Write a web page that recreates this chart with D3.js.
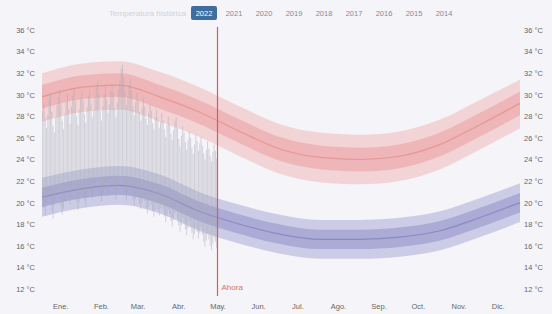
<!DOCTYPE html>
<html>
<head>
<meta charset="utf-8">
<script src="https://cdn.jsdelivr.net/npm/d3@7"></script>
<style>
  body { margin: 0; background: #f5f4f9; }
  text { font-family: "Liberation Sans", Arial, sans-serif; }
</style>
</head>
<body>
<div id="chart"></div>
<script>
// month labels (centred mid-month)
var monthLabels = ["Ene.", "Feb.", "Mar.", "Abr.", "May.", "Jun.", "Jul.", "Ago.", "Sep.", "Oct.", "Nov.", "Dic."]
var yTicks = [12, 14, 16, 18, 20, 22, 24, 26, 28, 30, 32, 34, 36]
var years = ["2022", "2021", "2020", "2019", "2018", "2017", "2016", "2015", "2014"]

// historical bands, value at the first day of each month (13 points, Jan 1 -> next Jan 1)
var redOuterHi = [32.0, 32.9, 33.1, 32.1, 30.7, 28.9, 27.3, 26.5, 26.3, 26.6, 27.7, 29.5, 31.4]
var redOuterLo = [27.5, 28.4, 28.6, 27.5, 26.1, 24.3, 22.7, 21.9, 21.7, 22.0, 23.1, 24.9, 26.9]
var redInnerHi = [30.9, 31.8, 32.0, 30.9, 29.5, 27.7, 26.1, 25.3, 25.1, 25.4, 26.5, 28.3, 30.3]
var redInnerLo = [28.7, 29.6, 29.8, 28.7, 27.3, 25.5, 23.9, 23.1, 22.9, 23.2, 24.3, 26.1, 28.1]
var redMid     = [29.8, 30.7, 30.9, 29.8, 28.4, 26.6, 25.0, 24.2, 24.0, 24.3, 25.4, 27.2, 29.2]

var blueOuterHi = [22.3, 23.1, 23.4, 22.6, 21.0, 19.8, 18.9, 18.4, 18.4, 18.6, 19.2, 20.4, 21.8]
var blueOuterLo = [18.7, 19.5, 19.8, 19.0, 17.4, 16.2, 15.3, 14.8, 14.8, 15.0, 15.6, 16.8, 18.2]
var blueInnerHi = [21.4, 22.2, 22.5, 21.7, 20.1, 18.9, 18.0, 17.5, 17.5, 17.7, 18.3, 19.5, 20.9]
var blueInnerLo = [19.6, 20.4, 20.7, 19.9, 18.3, 17.1, 16.2, 15.7, 15.7, 15.9, 16.5, 17.7, 19.1]
var blueMid     = [20.5, 21.3, 21.6, 20.8, 19.2, 18.0, 17.1, 16.6, 16.6, 16.8, 17.4, 18.6, 20.0]

// 2022 daily max / min, Jan 1 -> May 14
var dailyHigh = [
  28.5, 29.2, 27.8, 26.9, 28.1, 29.6, 30.2, 28.4, 27.1, 26.5, 27.9, 29.0, 29.8, 30.5, 29.1, 27.6, 26.8, 28.2, 29.4, 30.1, 28.7, 27.3, 28.9, 29.9, 30.6, 29.5, 28.0, 27.2, 28.6, 29.7, 30.3,
  29.5, 28.2, 27.4, 28.8, 29.9, 30.4, 29.2, 27.9, 28.6, 29.8, 30.7, 31.2, 30.1, 28.5, 27.6, 28.9, 30.0, 30.8, 29.6, 28.3, 29.1, 30.3, 31.0, 30.2, 28.8, 27.9, 29.3, 30.5,
  31.3, 32.4, 32.8, 31.6, 30.2, 29.0, 29.8, 30.9, 31.5, 30.4, 28.9, 28.1, 29.3, 30.2, 29.5, 28.4, 27.6, 28.8, 29.7, 28.9, 27.8, 27.2, 28.3, 29.1, 28.5, 27.4, 26.8, 27.9, 28.6, 27.7, 26.9,
  27.5, 28.3, 27.6, 26.8, 26.1, 27.2, 28.0, 27.3, 26.4, 25.8, 26.7, 27.6, 27.9, 26.9, 25.9, 25.2, 26.2, 27.1, 26.5, 25.6, 24.9, 25.8, 26.6, 26.0, 25.1, 24.5, 25.4, 26.3, 25.7, 24.8,
  25.5, 26.1, 25.3, 24.6, 24.0, 24.9, 25.7, 25.0, 24.3, 23.8, 24.7, 25.4, 24.8, 24.1
]
var dailyLow = [
  20.1, 19.5, 18.8, 19.9, 20.6, 21.0, 20.3, 19.2, 18.5, 19.7, 20.4, 20.9, 21.3, 20.8, 19.6, 18.9, 19.4, 20.2, 21.1, 21.5, 20.7, 19.8, 20.5, 21.2, 21.8, 21.0, 20.1, 19.3, 20.0, 20.9, 21.4,
  20.8, 20.2, 19.6, 20.5, 21.3, 21.7, 21.0, 20.4, 20.9, 21.6, 22.0, 22.3, 21.5, 20.7, 20.1, 20.8, 21.4, 21.9, 21.2, 20.6, 21.1, 21.8, 22.2, 21.7, 20.9, 20.3, 21.0, 21.6,
  22.0, 22.5, 22.1, 21.4, 20.8, 20.2, 20.7, 21.3, 21.6, 21.0, 20.3, 19.8, 20.4, 20.9, 20.5, 19.9, 19.4, 20.0, 20.6, 20.1, 19.5, 19.0, 19.6, 20.2, 19.8, 19.2, 18.7, 19.3, 19.9, 19.4, 18.8,
  19.5, 20.0, 19.4, 18.8, 18.2, 18.7, 19.3, 18.9, 18.3, 17.8, 18.4, 19.0, 19.2, 18.5, 17.9, 17.3, 17.9, 18.6, 18.1, 17.5, 17.0, 17.6, 18.3, 17.8, 17.2, 16.6, 17.1, 17.7, 17.3, 16.7,
  17.2, 17.7, 17.0, 16.4, 15.9, 16.5, 17.1, 16.6, 16.0, 15.6, 16.2, 16.8, 16.4, 15.8
]

var nowDate = new Date(2022, 4, 15)

var width = 552, height = 314
var margin = {top: 30, right: 32, bottom: 25, left: 42}

var svg = d3.select("#chart").append("svg")
  .attr("width", width)
  .attr("height", height)

var x = d3.scaleTime()
  .domain([new Date(2022, 0, 1), new Date(2023, 0, 1)])
  .range([margin.left, width - margin.right])

var y = d3.scaleLinear()
  .domain([12, 36])
  .range([height - margin.bottom, margin.top])

var monthStarts = d3.range(13).map(i => new Date(2022, i, 1))

function band(hi, lo) {
  return d3.area()
    .curve(d3.curveMonotoneX)
    .x((d, i) => x(monthStarts[i]))
    .y0((d, i) => y(lo[i]))
    .y1((d, i) => y(hi[i]))(hi)
}
var midLine = d3.line()
  .curve(d3.curveMonotoneX)
  .x((d, i) => x(monthStarts[i]))
  .y(d => y(d))

var bands = svg.append("g")

// red (max temp) bands
bands.append("path").attr("d", band(redOuterHi, redOuterLo)).attr("fill", "#ee9696").attr("opacity", 0.35)
bands.append("path").attr("d", band(redInnerHi, redInnerLo)).attr("fill", "#e98282").attr("opacity", 0.35)
bands.append("path").attr("d", midLine(redMid)).attr("fill", "none").attr("stroke", "#e06e6e").attr("stroke-width", 1.2).attr("opacity", 0.45)

// blue (min temp) bands
bands.append("path").attr("d", band(blueOuterHi, blueOuterLo)).attr("fill", "#9494cc").attr("opacity", 0.42)
bands.append("path").attr("d", band(blueInnerHi, blueInnerLo)).attr("fill", "#7e7ec0").attr("opacity", 0.42)
bands.append("path").attr("d", midLine(blueMid)).attr("fill", "none").attr("stroke", "#6c6cb0").attr("stroke-width", 1.2).attr("opacity", 0.5)

// daily bars 2022
var days = dailyHigh.map((h, i) => ({date: new Date(2022, 0, 1 + i), hi: h, lo: dailyLow[i]}))
svg.append("g")
  .selectAll("line")
  .data(days)
  .join("line")
    .attr("x1", d => x(d.date) + 0.6)
    .attr("x2", d => x(d.date) + 0.6)
    .attr("y1", d => y(d.hi))
    .attr("y2", d => y(d.lo))
    .attr("stroke", "#a8a8b4")
    .attr("stroke-width", 1)
    .attr("opacity", 0.45)

// now line
var nowX = Math.round(x(nowDate)) + 0.5
svg.append("line")
  .attr("x1", nowX).attr("x2", nowX)
  .attr("y1", 27).attr("y2", 296)
  .attr("stroke", "#e8574e")
  .attr("stroke-width", 1.2)
svg.append("text")
  .attr("x", nowX + 4)
  .attr("y", 290)
  .attr("font-size", 8)
  .attr("fill", "#e0705a")
  .text("Ahora")

// axes
var fmt = d => d + " °C"
svg.append("g")
  .attr("transform", `translate(${margin.left - 4},0)`)
  .call(d3.axisLeft(y).tickValues(yTicks).tickFormat(fmt).tickSize(0))
svg.append("g")
  .attr("transform", `translate(${width - margin.right + 1},0)`)
  .call(d3.axisRight(y).tickValues(yTicks).tickFormat(fmt).tickSize(0))

var midMonths = d3.range(12).map(i => new Date(2022, i, 15))
svg.append("g")
  .attr("transform", `translate(0,${height - margin.bottom + 12})`)
  .call(d3.axisBottom(x).tickValues(midMonths).tickFormat((d, i) => monthLabels[i]).tickSize(0))

svg.selectAll(".domain").remove()
svg.selectAll(".tick text")
  .attr("font-size", 7.5)
  .attr("fill", "#666")
  .attr("font-family", "Liberation Sans, Arial, sans-serif")

// legend
var legend = svg.append("g")
legend.append("text")
  .attr("x", 186).attr("y", 16)
  .attr("text-anchor", "end")
  .attr("font-size", 8)
  .attr("fill", "#d2d2d8")
  .text("Temperatura histórica")

legend.append("rect")
  .attr("x", 191).attr("y", 6)
  .attr("width", 26).attr("height", 14)
  .attr("rx", 2)
  .attr("fill", "#3e6d9f")

legend.selectAll("text.year")
  .data(years)
  .join("text")
    .attr("class", "year")
    .attr("x", (d, i) => 204 + i * 30)
    .attr("y", 16)
    .attr("text-anchor", "middle")
    .attr("font-size", 7.5)
    .attr("fill", (d, i) => i === 0 ? "#fff" : "#8a8a95")
    .text(d => d)
</script>
</body>
</html>
